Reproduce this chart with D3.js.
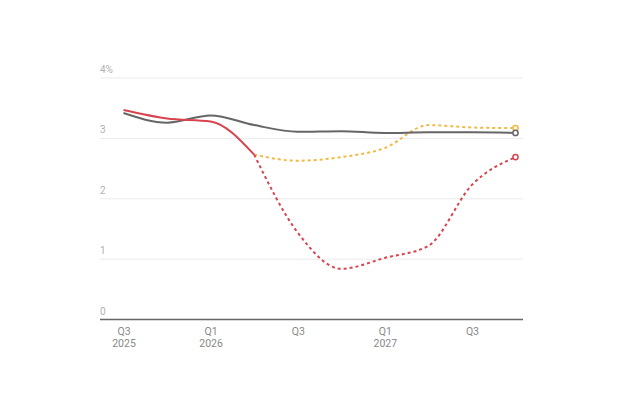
<!DOCTYPE html>
<html>
<head>
<meta charset="utf-8">
<script src="https://cdn.jsdelivr.net/npm/d3@7"></script>
<style>
  body { margin: 0; background: #fff; }
  text { font-family: Roboto, "Noto Sans", sans-serif; }
</style>
</head>
<body>
<div id="chart"></div>
<script>
// quarterly periods
var quarters = ["Q3 2025", "Q4 2025", "Q1 2026", "Q2 2026", "Q3 2026",
                "Q4 2026", "Q1 2027", "Q2 2027", "Q3 2027", "Q4 2027"];
var xTickLabels = [["Q3", "2025"], ["Q1", "2026"], ["Q3", ""], ["Q1", "2027"], ["Q3", ""]];
var xTickIndex = [0, 2, 4, 6, 8];
var yTicks = [0, 1, 2, 3, 4];

// series values (%)
var grayValues = [3.42, 3.26, 3.38, 3.22, 3.11, 3.12, 3.09, 3.10, 3.10, 3.09];
var redActual = [3.47, 3.33, 3.28, 2.73];
var redForecast = [2.73, 1.44, 0.84, 1.02, 1.22, 2.23, 2.69];
var yellowForecast = [2.73, 2.63, 2.69, 2.84, 3.22, 3.18, 3.17];
var forecastStart = 3;

var margin = {top: 78, right: 101, bottom: 96, left: 100},
    width = 624 - margin.left - margin.right,
    height = 416 - margin.top - margin.bottom;

var x = d3.scaleLinear()
    .domain([0, quarters.length - 1])
    .range([23.5, 415.5]);
var y = d3.scaleLinear()
    .domain([0, 4])
    .range([241.5, 0]);

var svg = d3.select("#chart").append("svg")
    .attr("width", 624)
    .attr("height", 416)
  .append("g")
    .attr("transform", "translate(" + margin.left + "," + margin.top + ")");

// gridlines + y labels
svg.selectAll(".grid")
    .data(yTicks.filter(function(d) { return d > 0; }))
  .enter().append("line")
    .attr("x1", 0).attr("x2", width)
    .attr("y1", function(d) { return y(d); })
    .attr("y2", function(d) { return y(d); })
    .attr("stroke", "#ebebeb")
    .attr("stroke-width", 1);

svg.selectAll(".ylab")
    .data(yTicks)
  .enter().append("text")
    .attr("x", 0)
    .attr("y", function(d) { return y(d) - 5; })
    .attr("font-size", 10)
    .attr("fill", "#b0b0b0")
    .text(function(d) { return d === 4 ? "4%" : d; });

// x axis
var xAxis = svg.append("g")
    .attr("transform", "translate(0," + y(0) + ")")
    .call(d3.axisBottom(x).tickValues(xTickIndex).tickSize(0).tickFormat(""));
xAxis.select(".domain")
    .attr("d", "M0,0H" + width)
    .attr("stroke", "#666")
    .attr("stroke-width", 1.3);
xAxis.selectAll(".tick").each(function(d, i) {
  var t = d3.select(this).select("text")
      .attr("y", 0)
      .attr("font-size", 10.5)
      .attr("fill", "#888");
  t.text(null);
  t.append("tspan").attr("x", 0).attr("dy", "1.45em").text(xTickLabels[i][0]);
  t.append("tspan").attr("x", 0).attr("dy", "1.15em").text(xTickLabels[i][1]);
});

var line = d3.line()
    .x(function(d) { return x(d[0]); })
    .y(function(d) { return y(d[1]); })
    .curve(d3.curveMonotoneX);

function pts(values, offset) {
  return values.map(function(v, i) { return [i + offset, v]; });
}

var red = "#d9434e", yellow = "#f0b944", gray = "#666";

svg.append("path").datum(pts(yellowForecast, forecastStart))
    .attr("d", line).attr("fill", "none")
    .attr("stroke", yellow).attr("stroke-width", 2)
    .attr("stroke-dasharray", "3,3");
svg.append("path").datum(pts(redForecast, forecastStart))
    .attr("d", line).attr("fill", "none")
    .attr("stroke", red).attr("stroke-width", 2)
    .attr("stroke-dasharray", "3,3");
svg.append("path").datum(pts(grayValues, 0))
    .attr("d", line).attr("fill", "none")
    .attr("stroke", gray).attr("stroke-width", 2);
svg.append("path").datum(pts(redActual, 0))
    .attr("d", line).attr("fill", "none")
    .attr("stroke", red).attr("stroke-width", 2);

// end markers
var ends = [
  {v: yellowForecast[yellowForecast.length - 1], c: yellow},
  {v: redForecast[redForecast.length - 1], c: red},
  {v: grayValues[grayValues.length - 1], c: gray}
];
svg.selectAll(".end")
    .data(ends)
  .enter().append("circle")
    .attr("cx", x(quarters.length - 1))
    .attr("cy", function(d) { return y(d.v); })
    .attr("r", 2.6)
    .attr("fill", "#fff")
    .attr("stroke", function(d) { return d.c; })
    .attr("stroke-width", 1.5);
</script>
</body>
</html>
